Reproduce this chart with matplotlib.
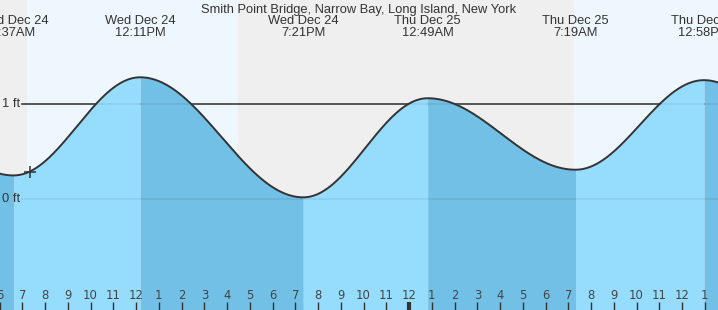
import numpy as np
import matplotlib.pyplot as plt

# tide extremes, hours from Wed Dec 24 00:00 (first and last are off-chart guesses)
tide_hours = [0.2, 6.617, 12.183, 19.35, 24.817, 31.317, 36.967, 43.7]
tide_ft = [1.10, 0.25, 1.28, 0.02, 1.06, 0.31, 1.25, 0.05]
tide_labels = ["Wed Dec 24\n6:37AM", "Wed Dec 24\n12:11PM", "Wed Dec 24\n7:21PM",
               "Thu Dec 25\n12:49AM", "Thu Dec 25\n7:19AM", "Thu Dec 25\n12:58PM"]

# daylight bands
sunrise = [7.2, 31.25]
sunset = [16.48, 40.5]

now_hour = 7.33
midnight = 24
hour_ticks = list(range(6, 38))
hour_labels = [str((h - 1) % 12 + 1) for h in hour_ticks]

x0, x1 = 6.02, 37.58
y0, y1 = -1.162, 2.091
px = (y1 - y0) / 310  # one pixel in feet

plt.rcParams['font.family'] = ['Liberation Sans', 'DejaVu Sans']
fig = plt.figure(figsize=(7.18, 3.10), dpi=100)
ax = fig.add_axes([0, 0, 1, 1])
ax.set_xlim(x0, x1)
ax.set_ylim(y0, y1)
ax.axis('off')

# night / day background
ax.axvspan(x0, x1, color='#efefef', zorder=0)
for a, b in zip(sunrise, sunset):
    ax.axvspan(a, b, color='#eef7fe', zorder=0, lw=0)

# 1 ft line behind the water
ax.plot([7.0, x1], [1, 1], color='#333333', lw=1.1, zorder=1)

# tide curve, cosine shape between each high and low
all_t, all_h = [], []
for i in range(len(tide_hours) - 1):
    ta, tb = tide_hours[i], tide_hours[i + 1]
    ha, hb = tide_ft[i], tide_ft[i + 1]
    t = np.linspace(ta, tb, 80)
    h = ha + (hb - ha) * (1 - np.cos(np.pi * (t - ta) / (tb - ta))) / 2
    col = '#96dcfd' if hb > ha else '#72c0e6'
    ax.fill_between(t, y0, h, color=col, lw=0, zorder=2)
    all_t.extend(t)
    all_h.extend(h)
ax.plot(all_t, all_h, color='#333333', lw=1.4, zorder=4)

# faint grid lines through the water
ax.plot([7.0, x1], [1, 1], color='#000000', alpha=0.08, lw=1.1, zorder=3)
ax.plot([7.0, x1], [0, 0], color='#000000', alpha=0.08, lw=1.1, zorder=3)
ax.text(6.9, 1, "1 ft", ha='right', va='center', fontsize=9.3, color='#333333', zorder=5)
ax.text(6.9, 0, "0 ft", ha='right', va='center', fontsize=9.3, color='#333333', zorder=5)

# current time marker
ax.plot([now_hour], [0.29], marker='+', ms=9, mew=1.1, color='#333333', zorder=5)

# extreme labels and title
for t, lab in zip(tide_hours[1:-1], tide_labels):
    ax.text(t, y1 - 14.5 * px, lab, ha='center', va='top', fontsize=9.3, color='#333333',
            linespacing=1.05, zorder=5)
ax.text((x0 + x1) / 2, y1 - 3.5 * px, "Smith Point Bridge, Narrow Bay, Long Island, New York",
        ha='center', va='top', fontsize=9.3, color='#333333', zorder=5)

# hour ticks along the bottom
for h, lab in zip(hour_ticks, hour_labels):
    lw = 3 if h == midnight else 1
    ax.plot([h, h], [y0, y0 + 8.5 * px], color='#333333', lw=lw, zorder=5, solid_capstyle='butt')
    ax.text(h, y0 + 14.5 * px, lab, ha='center', va='center', fontsize=9.3, color='#444444',
            family=['DejaVu Sans Condensed', 'Liberation Sans Narrow', 'DejaVu Sans'],
            stretch='condensed', zorder=5)

fig.savefig("out.png", dpi=100)
